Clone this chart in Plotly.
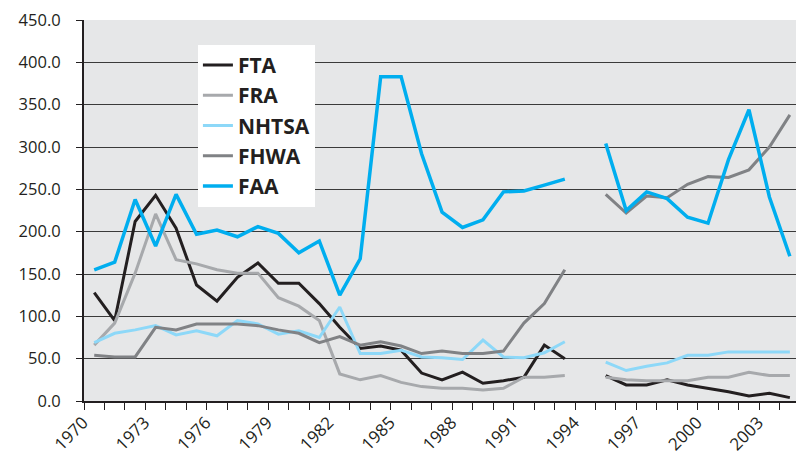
import plotly.graph_objects as go

years = list(range(1970, 2005))

FTA = [128, 95, 212, 243, 204, 137, 118, 146, 163, 139, 139, 115, 87, 62, 65, 60, 33, 25, 34, 21, 24, 28, 66, 50,
       None,
       30, 19, 19, 25, 19, 15, 11, 6, 9, 4]
FRA = [66, 92, 151, 221, 167, 162, 155, 151, 151, 122, 112, 95, 32, 25, 30, 22, 17, 15, 15, 13, 15, 28, 28, 30,
       None,
       28, 25, 24, 24, 24, 28, 28, 34, 30, 30]
NHTSA = [69, 80, 84, 89, 78, 83, 77, 95, 91, 79, 83, 75, 111, 56, 56, 60, 52, 51, 49, 72, 52, 51, 57, 70,
         None,
         46, 36, 41, 45, 54, 54, 58, 58, 58, 58]
FHWA = [54, 52, 52, 87, 84, 91, 91, 91, 89, 84, 80, 69, 76, 66, 70, 65, 56, 59, 56, 56, 59, 92, 115, 155,
        None,
        244, 222, 242, 240, 256, 265, 264, 273, 300, 338]
FAA = [155, 164, 238, 183, 244, 197, 202, 194, 206, 198, 175, 189, 125, 168, 383, 383, 292, 223, 205, 214, 247, 248, 255, 262,
       None,
       304, 225, 247, 239, 217, 210, 285, 344, 241, 171]

tick_years = list(range(1970, 2004, 3))
tick_labels = [str(y) for y in tick_years]

series = [
    ("FTA", FTA, "#231F20"),
    ("FRA", FRA, "#A7A9AC"),
    ("NHTSA", NHTSA, "#8DD8F8"),
    ("FHWA", FHWA, "#808285"),
    ("FAA", FAA, "#00AEEF"),
]

fig = go.Figure()
for name, vals, color in series:
    fig.add_trace(go.Scatter(
        x=years, y=vals, name=name, mode="lines",
        line=dict(color=color, width=3.5 if name == "FAA" else 3),
        connectgaps=False,
    ))

font_family = "Open Sans, Noto Sans, sans-serif"

fig.update_layout(
    width=796, height=458,
    margin=dict(l=84, r=0, t=20, b=57),
    paper_bgcolor="white",
    plot_bgcolor="#E6E7E8",
    font=dict(family=font_family, color="#231F20", size=16),
    showlegend=True,
    legend=dict(
        x=0.16, y=0.935, xanchor="left", yanchor="top",
        bgcolor="white", borderwidth=0,
        font=dict(size=21, family=font_family, color="#231F20", weight="bold"),
        itemwidth=30,
        tracegroupgap=0,
    ),
    xaxis=dict(
        range=[1969.5, 2004.3], automargin=False,
        tickmode="array", tickvals=tick_years, ticktext=tick_labels,
        tickangle=-45, ticks="", showgrid=False, zeroline=False,
        showline=True, linecolor="#231F20", linewidth=2,
        tickfont=dict(size=17), ticklabelstandoff=3, ticklabelshift=-11,
        minor=dict(tickmode="linear", tick0=1969.5, dtick=1, ticks="outside",
                   ticklen=7, tickcolor="#231F20", tickwidth=1, showgrid=False),
    ),
    yaxis=dict(
        range=[0, 450], dtick=50, tickformat=".1f", automargin=False,
        showgrid=True, gridcolor="#3a3a3a", gridwidth=1,
        zeroline=False, showline=True, linecolor="#231F20", linewidth=2,
        ticks="outside", ticklen=6, tickcolor="#231F20",
        tickfont=dict(size=16.5), ticklabelstandoff=12,
    ),
)

fig.write_html("out.html", config={"displayModeBar": False},
               post_script="document.body.style.margin='0';document.body.style.padding='0';")
